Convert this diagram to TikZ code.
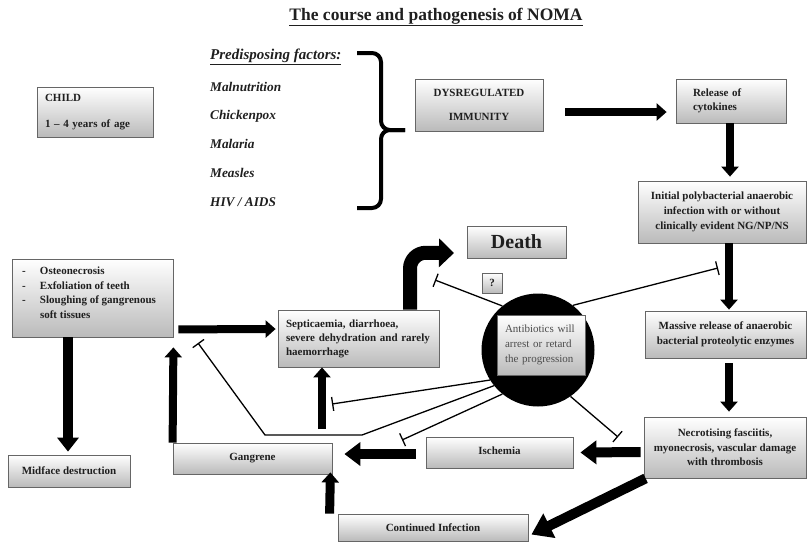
\documentclass[tikz,border=0pt]{standalone}
\usepackage{fontspec}
\setmainfont{Liberation Serif}
\usetikzlibrary{arrows.meta,calc,shadows}
\begin{document}
\begin{tikzpicture}[x=1pt,y=-1pt,
  box/.style={draw=black!60, line width=0.8pt, top color=white, bottom color=black!27,
    drop shadow={shadow xshift=0.6pt,shadow yshift=-1.4pt,fill=black!60,opacity=0.7},
    inner sep=0pt, font=\fontsize{11}{15}\selectfont\bfseries, text=black!88},
  fat/.style={line width=8pt, -{Triangle[length=10pt,width=17pt]}},
  fatter/.style={line width=10pt, -{Triangle[length=16pt,width=23pt]}},
  inhib/.style={line width=1.3pt, -{Bar[width=14pt]}},
  factor/.style={font=\fontsize{13.3}{15}\selectfont\bfseries\itshape, anchor=west, inner sep=0pt, text=black!88},
]
\useasboundingbox (0,0) rectangle (808,542);

\node[font=\fontsize{17.5}{20}\selectfont\bfseries, text=black!88] (title) at (436,17) {\underline{The course and pathogenesis of NOMA}};

\node[box, minimum width=116pt, minimum height=50pt, align=left, text width=100pt] (child) at (95,112) {CHILD\\[11pt]1 -- 4 years of age};

\node[factor, font=\fontsize{15}{17}\selectfont\bfseries\itshape] (pf0) at (210,57) {\underline{Predisposing factors:}};
\node[factor] (pf1) at (210,87) {Malnutrition};
\node[factor] (pf2) at (210,116) {Chickenpox};
\node[factor] (pf3) at (210,144) {Malaria};
\node[factor] (pf4) at (210,173) {Measles};
\node[factor] (pf5) at (210,202) {HIV / AIDS};

\draw[line width=4pt, rounded corners=9pt] (357,53) -- (381,53) -- (381,130) -- (405,130);
\draw[line width=4pt, rounded corners=9pt] (357,208) -- (381,208) -- (381,130) -- (405,130);

\node[box, minimum width=128pt, minimum height=52pt, align=center] (dys) at (479,105) {DYSREGULATED\\[9pt]IMMUNITY};
\node[box, minimum width=110pt, minimum height=44pt, align=left, text width=76pt, font=\fontsize{11}{14}\selectfont\bfseries] (cyto) at (731,101) {Release of\\cytokines};
\node[box, minimum width=168pt, minimum height=62pt, align=center] (init) at (722,212) {Initial polybacterial anaerobic\\infection with or without\\clinically evident NG/NP/NS};
\node[box, minimum width=161pt, minimum height=47pt, align=center] (massive) at (725.5,334.5) {Massive release of anaerobic\\bacterial proteolytic enzymes};
\node[box, minimum width=162pt, minimum height=61pt, align=center, font=\fontsize{11}{14.5}\selectfont\bfseries] (necro) at (725,447.5) {Necrotising fasciitis,\\myonecrosis, vascular damage\\with thrombosis};

\node[box, minimum width=161pt, minimum height=78pt, font=\fontsize{11}{14.5}\selectfont\bfseries] (osteo) at (92.5,298) {\parbox[c][62pt][t]{141pt}{\raggedright
  \makebox[18pt][l]{-}Osteonecrosis\\
  \makebox[18pt][l]{-}Exfoliation of teeth\\
  \makebox[18pt][l]{-}Sloughing of gangrenous\\
  \hspace*{18pt}soft tissues}};
\node[box, minimum width=161pt, minimum height=57pt, align=left, text width=150pt, font=\fontsize{11}{14}\selectfont\bfseries] (sept) at (358.5,338.5) {\hspace*{2.5pt}Septicaemia, diarrhoea,\\\hspace*{2.5pt}severe dehydration and rarely\\\hspace*{2.5pt}haemorrhage};

\node[box, minimum width=99pt, minimum height=32pt, font=\fontsize{20}{22}\selectfont\bfseries] (death) at (516.5,242) {Death};
\node[box, minimum width=20pt, minimum height=20pt] (q) at (492,283) {?};

\node[circle, fill=black, minimum size=113pt, inner sep=0pt] (circ) at (538,350) {};
\node[box, minimum width=88pt, minimum height=60pt, align=left, text width=72pt, font=\fontsize{11}{15}\selectfont, text=black!70] (anti) at (541,345) {Antibiotics will\\arrest or retard\\the progression};

\node[box, minimum width=122pt, minimum height=32pt] (midface) at (69,471) {Midface destruction};
\node[box, minimum width=159pt, minimum height=31pt] (gangrene) at (252.5,458.5) {\raisebox{3pt}{Gangrene}};
\node[box, minimum width=147pt, minimum height=31pt] (ischemia) at (499.5,452.5) {\raisebox{3pt}{Ischemia}};
\node[box, minimum width=190pt, minimum height=27pt] (contin) at (433,527.5) {Continued Infection};

% thick arrows
\draw[fat] ($(dys.east)+(22,7)$) -- ($(cyto.west)+(-9,11)$);
\draw[fat] ($(cyto.south)+(-1,0)$) -- ($(init.north)+(8,-4)$);
\draw[fat] ($(init.south)+(7,0)$) -- ($(massive.north)+(3.5,-1)$);
\draw[fat] ($(massive.south)+(3.5,5)$) -- ($(necro.north)+(4,-5)$);
\draw[fatter] ($(necro.west)+(-3,4.5)$) -- ($(ischemia.east)+(7,0)$);
\draw[fatter] ($(ischemia.west)+(-10,1.5)$) -- ($(gangrene.east)+(12,-4.5)$);
\draw[fat, line width=9pt] ($(contin.north west)+(-8,0)$) -- ($(gangrene.south east)+(-2,-2)$);
\draw[line width=10pt, -{Triangle[length=20pt,width=26pt]}] ($(necro.south west)+(2,0)$) -- ($(contin.east)+(3,7)$);
\draw[line width=10pt, -{Triangle[length=14pt,width=21pt]}] ($(osteo.south)+(-24.5,0)$) -- ($(midface.north)+(-1,-3)$);
\draw[fat] (gangrene.north west) -- ($(osteo.south east)+(0,10)$);
\draw[fat] ($(osteo.south east)+(5,-8)$) -- ($(sept.west)+(-2,-9.5)$);
\coordinate (su) at (322,429);
\draw[fat] (su) -- ($(sept.south)+(-36.5,0)$);
\coordinate (dtip) at (454,253);
\draw[line width=14pt, rounded corners=16pt, -{Triangle[length=15pt,width=28pt]}] ($(sept.north)+(51.5,0)$) -- ($(sept.north)+(51.5,-57)$) -- (dtip);

% inhibition lines
\coordinate (i1) at (435,280);
\draw[inhib] (circ.129) -- (i1);
\coordinate (i2) at (718,268);
\draw[inhib] (circ.52) -- (i2);
\coordinate (i3) at (332,404);
\draw[inhib] (circ.212) -- (i3);
\coordinate (i4a) at (362,435);
\coordinate (i4b) at (265,435);
\coordinate (i4) at (198,343);
\draw[inhib] (circ.219) -- (i4a) -- (i4b) -- (i4);
\coordinate (i5) at (402,440);
\draw[inhib] (circ.231) -- (i5);
\coordinate (i6) at (618,437);
\draw[inhib] (circ.305) -- (i6);
\end{tikzpicture}
\end{document}
